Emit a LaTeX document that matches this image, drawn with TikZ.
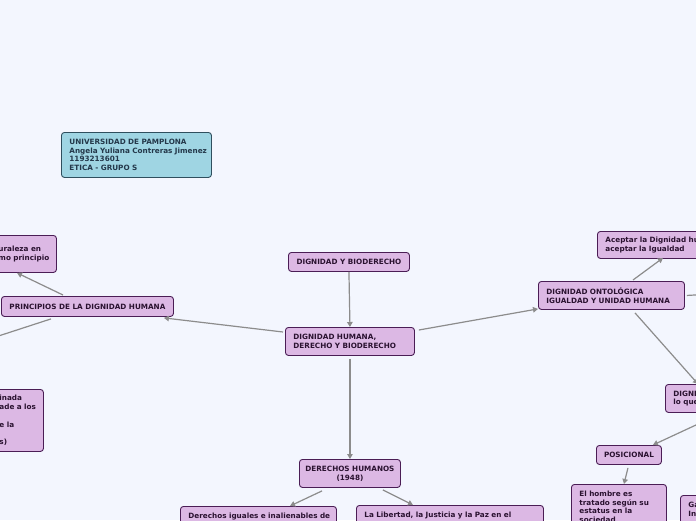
\documentclass[tikz,border=0pt]{standalone}
\usepackage{fontspec}
\newfontfamily\vfont{DejaVu Sans}
\usetikzlibrary{arrows.meta}
\definecolor{bg}{HTML}{F3F6FE}
\definecolor{nd}{HTML}{DCB8E4}
\definecolor{bd}{HTML}{4A1D55}
\definecolor{tx}{HTML}{2A1230}
\definecolor{infofill}{HTML}{9FD5E3}
\definecolor{infobd}{HTML}{2F4F5E}
\definecolor{infotx}{HTML}{24384A}
\definecolor{ln}{HTML}{8C8C8C}
\hfuzz=200pt \hbadness=10000
\tikzset{
  box/.style={draw=bd, fill=nd, rounded corners=3pt, line width=0.9pt,
    font=\vfont\bfseries\fontsize{7.25}{8.7}\selectfont, text=tx,
    inner xsep=8pt, inner ysep=0pt, align=left, anchor=north west},
  cbox/.style={box, align=center, inner xsep=4pt},
  infobox/.style={box, draw=infobd, fill=infofill, text=infotx},
  conn/.style={draw=ln, line width=1.2pt},
  arr/.style={conn, -{Triangle[length=5pt,width=5.5pt]}}
}
\begin{document}
\begin{tikzpicture}[x=1pt,y=-1pt]
\useasboundingbox (0,0) rectangle (696,520);
\fill[bg] (0,0) rectangle (696,520);
\clip (0,0) rectangle (696,520);

% nodes
\node[infobox, text width=134pt, minimum height=45pt] (info) at (61,132)
  {\mbox{UNIVERSIDAD DE PAMPLONA}\\\mbox{Angela Yuliana Contreras Jimenez}\\\mbox{1193213601}\\\mbox{ETICA - GRUPO S}};
\node[box, text width=50pt, minimum height=37pt] (lt) at (-10,235)
  {\mbox{uraleza en}\\\mbox{mo principio}};
\node[cbox, minimum width=172pt, minimum height=20pt] (prin) at (1,296)
  {PRINCIPIOS DE LA DIGNIDAD HUMANA};
\node[box, text width=36pt, minimum height=62pt] (lb) at (-9,389)
  {\mbox{inada}\\\mbox{ade a los}\\\mbox{}\\\mbox{e la}\\\mbox{}\\\mbox{s)}};
\node[cbox, minimum width=121pt, minimum height=19pt] (dyb) at (288,252)
  {DIGNIDAD Y BIODERECHO};
\node[box, text width=113pt, minimum height=28pt] (dh) at (285,327)
  {\mbox{DIGNIDAD HUMANA,}\\\mbox{DERECHO Y BIODERECHO}};
\node[cbox, minimum width=101pt, minimum height=28pt] (dhum) at (299,459)
  {DERECHOS HUMANOS\\(1948)};
\node[box, text width=140pt, inner ysep=6.5pt] (di) at (180,506)
  {\mbox{Derechos iguales e inalienables de}\\\mbox{}};
\node[box, text width=171pt, inner ysep=6.5pt] (lib) at (356,505)
  {\mbox{La Libertad, la Justicia y la Paz en el}\\\mbox{}};
\node[box, text width=130pt, minimum height=28pt] (ont) at (538,281)
  {\mbox{DIGNIDAD ONTOLÓGICA}\\\mbox{IGUALDAD Y UNIDAD HUMANA}};
\node[box, text width=150pt, minimum height=27pt] (acep) at (597,231)
  {\mbox{Aceptar la Dignidad humana}\\\mbox{aceptar la Igualdad}};
\node[box, text width=84pt, minimum height=28pt] (digni) at (665,384)
  {\mbox{DIGNIDAD}\\\mbox{lo que}};
\node[cbox, minimum width=65pt, minimum height=19pt] (pos) at (596,445)
  {POSICIONAL};
\node[box, text width=79pt, inner ysep=6.5pt] (hom) at (571,484)
  {\mbox{El hombre es}\\\mbox{tratado según su}\\\mbox{estatus en la}\\\mbox{sociedad}};
\node[box, text width=44pt, inner ysep=6.5pt] (ga) at (680,495)
  {\mbox{Ga}\\\mbox{In}\\\mbox{}};

\coordinate (offL) at (-20,342);
\coordinate (offR) at (712,294);

% connectors
\draw[arr] ([shift={(62,-1)}]prin.north west) -- ([shift={(27,0)}]lt.south west);
\draw[conn] ([shift={(50,2)}]prin.south west) -- (offL);
\draw[arr] (dyb.south) -- (dh.north);
\draw[arr] ([shift={(-2,5)}]dh.north west) -- ([shift={(-10,1)}]prin.south east);
\draw[arr] ([shift={(4,3)}]dh.north east) -- ([shift={(0,-1)}]ont.south west);
\draw[arr, shorten <=3pt] (dh.south) -- (dhum.north);
\draw[arr] ([shift={(23,3)}]dhum.south west) -- ([shift={(110,0)}]di.north west);
\draw[arr] ([shift={(-18,2)}]dhum.south east) -- ([shift={(57,0)}]lib.north west);
\draw[arr] ([shift={(95,-1)}]ont.north west) -- ([shift={(66,-1)}]acep.south west);
\draw[conn] ([shift={(2,0)}]ont.east) -- (offR);
\draw[arr] ([shift={(97,3)}]ont.south west) -- ([shift={(33,0)}]digni.north west);
\draw[arr] ([shift={(57,0)}]digni.south west) -- ([shift={(-9,0)}]pos.north east);
\draw[arr] ([shift={(-1,3)}]pos.south) -- ([shift={(53,0)}]hom.north west);
\end{tikzpicture}
\end{document}
